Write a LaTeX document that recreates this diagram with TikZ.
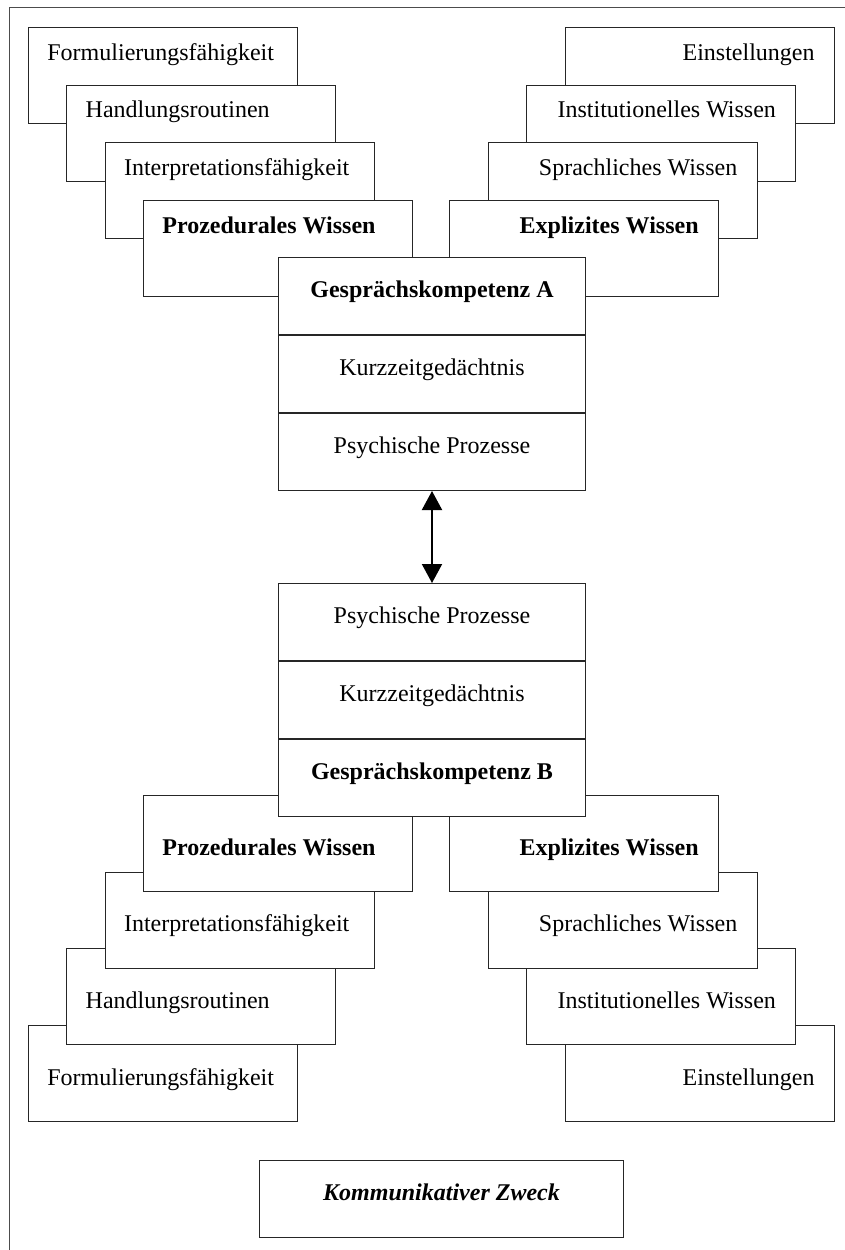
\documentclass[tikz,border=0pt]{standalone}
\usepackage{fontspec}
\setmainfont{Liberation Serif}
\usetikzlibrary{arrows.meta}

\begin{document}
\begin{tikzpicture}[
    x=0.5pt, y=-0.5pt,
    card/.style={draw=black!85, fill=white, line width=0.5pt, inner sep=0pt,
        minimum width=134.5pt, minimum height=48pt, anchor=north west},
    cell/.style={draw=black!85, fill=white, line width=0.5pt, inner sep=0pt,
        minimum width=153.5pt, minimum height=38.5pt, anchor=north west,
        text height=6pt, text depth=5pt},
    lbl/.style={inner sep=0pt},
    bold/.style={font=\fontsize{12}{14}\selectfont\bfseries},
    link/.style={{Triangle[width=10pt,length=9.5pt]}-{Triangle[width=10pt,length=9.5pt]}, line width=1pt},
    font=\fontsize{12}{14}\selectfont
]

\useasboundingbox (0,0) rectangle (845,1250);

% ── Frame (top and left edge only) ───────────────────────────────────────────
\draw[line width=0.5pt, black!70] (9,1250) -- (9,7.5) -- (845,7.5);

% ── Top-left stack: procedural knowledge of A ───────────────────────────────
\foreach \i/\txt in {0/Formulierungsfähigkeit, 1/Handlungsroutinen, 2/Interpretationsfähigkeit, 3/\textbf{Prozedurales Wissen}} {
    \node[card] (tl\i) at ({28+38.33*\i}, {27+57.67*\i}) {};
    \node[lbl, anchor=base west] (tl\i-txt) at ([shift={(19,33)}]tl\i.north west) {\txt};
}

% ── Top-right stack: explicit knowledge of A ────────────────────────────────
\foreach \i/\txt in {0/Einstellungen, 1/Institutionelles Wissen, 2/Sprachliches Wissen, 3/\textbf{Explizites Wissen}} {
    \node[card, anchor=north east] (tr\i) at ({835-38.67*\i}, {27+57.67*\i}) {};
    \node[lbl, anchor=base east] (tr\i-txt) at ([shift={(-20,33)}]tr\i.north east) {\txt};
}

% ── Speaker A ────────────────────────────────────────────────────────────────
\node[cell, bold] (a1) at (278,257) {Gesprächskompetenz A};
\node[cell, anchor=north] (a2) at (a1.south) {Kurzzeitgedächtnis};
\node[cell, anchor=north] (a3) at (a2.south) {Psychische Prozesse};

% ── Bottom-left stack: procedural knowledge of B ────────────────────────────
\foreach \i/\txt in {0/Formulierungsfähigkeit, 1/Handlungsroutinen, 2/Interpretationsfähigkeit, 3/\textbf{Prozedurales Wissen}} {
    \node[card] (bl\i) at ({28+38.33*\i}, {1025-76.67*\i}) {};
    \node[lbl, anchor=base west] (bl\i-txt) at ([shift={(19,60)}]bl\i.north west) {\txt};
}

% ── Bottom-right stack: explicit knowledge of B ─────────────────────────────
\foreach \i/\txt in {0/Einstellungen, 1/Institutionelles Wissen, 2/Sprachliches Wissen, 3/\textbf{Explizites Wissen}} {
    \node[card, anchor=north east] (br\i) at ({835-38.67*\i}, {1025-76.67*\i}) {};
    \node[lbl, anchor=base east] (br\i-txt) at ([shift={(-20,60)}]br\i.north east) {\txt};
}

% ── Speaker B ────────────────────────────────────────────────────────────────
\node[cell] (b1) at (278,583) {Psychische Prozesse};
\node[cell, anchor=north] (b2) at (b1.south) {Kurzzeitgedächtnis};
\node[cell, anchor=north, bold] (b3) at (b2.south) {Gesprächskompetenz B};

% ── Exchange between A and B ─────────────────────────────────────────────────
\draw[link] (a3.south) -- (b1.north);

% ── Purpose ──────────────────────────────────────────────────────────────────
\node[cell, minimum width=182pt, font=\fontsize{12}{14}\selectfont\bfseries\itshape] (zweck) at (259,1160) {Kommunikativer Zweck};

\end{tikzpicture}
\end{document}
